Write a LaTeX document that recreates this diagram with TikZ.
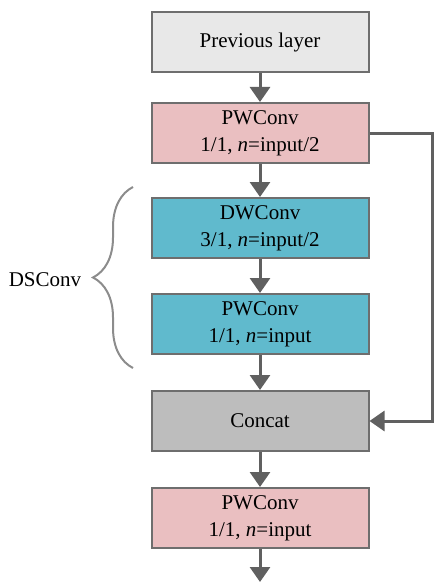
\documentclass[tikz,border=0pt]{standalone}
\usepackage{fontspec}
\setmainfont{Liberation Serif}
\usetikzlibrary{arrows.meta,decorations.pathreplacing}
\definecolor{prevgray}{HTML}{E8E8E8}
\definecolor{pwpink}{HTML}{EABFC1}
\definecolor{dsteal}{HTML}{60BACD}
\definecolor{catgray}{HTML}{BDBDBD}
\definecolor{edgegray}{HTML}{6E6E6E}
\definecolor{flowgray}{HTML}{606060}
\definecolor{bracegray}{HTML}{8C8C8C}
\tikzset{
  blk/.style={draw=edgegray, line width=1pt, minimum width=108.5pt, minimum height=30pt, align=center, inner sep=0pt},
  flow/.style={draw=flowgray, line width=1.5pt, -{Triangle[width=10pt,length=7.5pt]}},
}
\begin{document}
\begin{tikzpicture}[x=0.5pt,y=-0.5pt,font=\fontsize{10.5}{13.5}\selectfont]
\useasboundingbox (0,0) rectangle (434,583);
% main column
\node[blk,fill=prevgray] (prev) at (260,42) {Previous layer};
\node[blk,fill=pwpink] (pwa) at (260,133) {PWConv\\1/1, \textit{n}=input/2};
\node[blk,fill=dsteal] (dw) at (260,228) {DWConv\\3/1, \textit{n}=input/2};
\node[blk,fill=dsteal] (pwb) at (260,324) {PWConv\\1/1, \textit{n}=input};
\node[blk,fill=catgray] (concat) at (260,421) {Concat};
\node[blk,fill=pwpink] (pwc) at (260,518) {PWConv\\1/1, \textit{n}=input};
\coordinate (out) at (260,582);
\coordinate (skip) at (432,133);
% arrows
\draw[flow] (prev) -- (pwa);
\draw[flow] (pwa) -- (dw);
\draw[flow] (dw) -- (pwb);
\draw[flow] (pwb) -- (concat);
\draw[flow] (concat) -- (pwc);
\draw[flow] (pwc) -- (out);
\draw[flow] (pwa.east) -- (skip) |- (concat.east);
% brace
\draw[bracegray, line width=1pt, decorate, decoration={brace, amplitude=20pt}] (133,368) -- (133,187);
\node (ds) at (45,280) {DSConv};
\end{tikzpicture}
\end{document}
